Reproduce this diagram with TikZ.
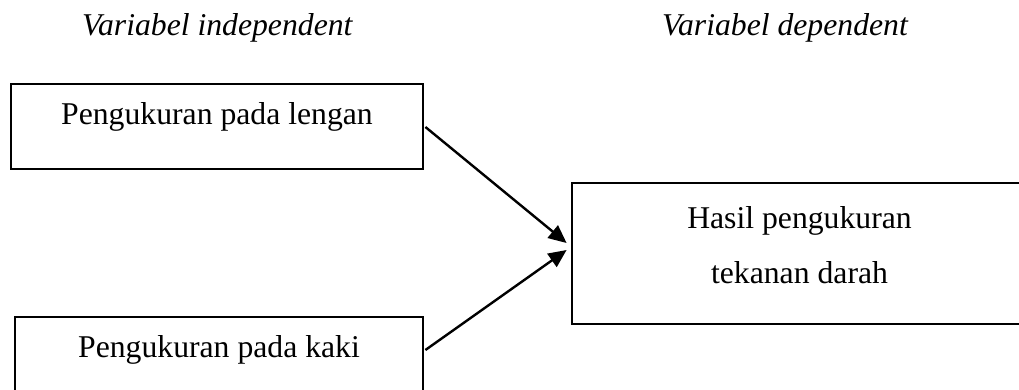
\documentclass[tikz,border=0pt]{standalone}
\usepackage{fontspec}
\setmainfont{Liberation Serif}
\usetikzlibrary{arrows.meta,calc}
\begin{document}
\begin{tikzpicture}[x=1pt,y=-1pt,
  box/.style={draw,line width=2.8pt,rectangle,inner sep=0pt},
  lbl/.style={font=\fontsize{31.7}{38}\selectfont,anchor=base,inner sep=0pt},
  ttl/.style={font=\fontsize{31.7}{38}\selectfont\itshape,anchor=base west,inner sep=0pt},
  conn/.style={line width=2.4pt,-{Triangle[length=18pt,width=16pt]}}]
\useasboundingbox (0,0) rectangle (1019,390);
\node[ttl] (t1) at (82,36) {Variabel independent};
\node[ttl] (t2) at (662,36) {Variabel dependent};
\node[box,minimum width=412pt,minimum height=85pt] (b1) at (217,126.5) {};
\node[box,minimum width=408pt,minimum height=78pt] (b2) at (219,356) {};
\node[box,minimum width=455pt,minimum height=141pt] (b3) at (799.5,253.5) {};
\node[lbl] (l1) at (217,125) {Pengukuran pada lengan};
\node[lbl] (l2) at (219,357) {Pengukuran pada kaki};
\node[lbl] (l3a) at (799.5,228) {Hasil pengukuran};
\node[lbl] (l3b) at (799.5,283) {tekanan darah};
\draw[conn] ($(b1.east)+(1,0.5)$) -- ($(b3.west)+(-4,-10.5)$);
\draw[conn] ($(b2.east)+(1,-6)$) -- ($(b3.west)+(-4,-3.5)$);
\end{tikzpicture}
\end{document}
